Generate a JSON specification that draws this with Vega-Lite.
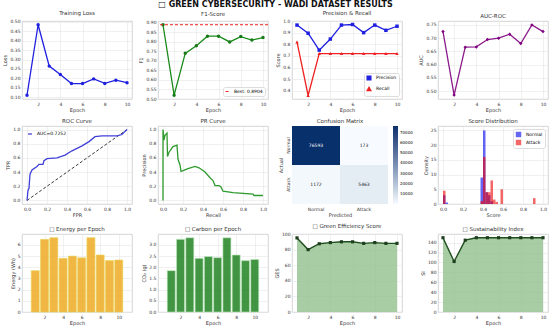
{
  "$schema": "https://vega.github.io/schema/vega-lite/v6.json",
  "padding": {"left": 2, "right": 2, "top": 1, "bottom": 1},
  "background": "white",
  "title": {"text": "□ GREEN CYBERSECURITY - WADI DATASET RESULTS", "fontSize": 8, "fontWeight": "bold", "anchor": "middle", "offset": 1, "color": "#111"},
  "columns": 4,
  "align": "each",
  "spacing": {"row": 5, "column": 5},
  "datasets": {
    "epochs": [
      {"epoch": 1, "loss": 0.11, "f1": 0.8904, "precision": 0.965, "recall": 0.82, "auc": 0.725, "energy": 3.7, "co2": 1.85, "ges": 95, "si": 150},
      {"epoch": 2, "loss": 0.485, "f1": 0.52, "precision": 0.895, "recall": 0.36, "auc": 0.485, "energy": 6.5, "co2": 3.25, "ges": 80, "si": 102},
      {"epoch": 3, "loss": 0.265, "f1": 0.74, "precision": 0.75, "recall": 0.72, "auc": 0.666, "energy": 6.65, "co2": 3.32, "ges": 87.5, "si": 145},
      {"epoch": 4, "loss": 0.22, "f1": 0.78, "precision": 0.845, "recall": 0.72, "auc": 0.667, "energy": 4.8, "co2": 2.4, "ges": 89, "si": 150},
      {"epoch": 5, "loss": 0.172, "f1": 0.83, "precision": 0.965, "recall": 0.72, "auc": 0.695, "energy": 5.0, "co2": 2.48, "ges": 90, "si": 150},
      {"epoch": 6, "loss": 0.172, "f1": 0.83, "precision": 0.97, "recall": 0.72, "auc": 0.70, "energy": 4.85, "co2": 2.43, "ges": 90, "si": 150},
      {"epoch": 7, "loss": 0.197, "f1": 0.80, "precision": 0.90, "recall": 0.72, "auc": 0.715, "energy": 6.65, "co2": 3.32, "ges": 88, "si": 150},
      {"epoch": 8, "loss": 0.173, "f1": 0.828, "precision": 0.965, "recall": 0.72, "auc": 0.68, "energy": 5.1, "co2": 2.55, "ges": 89, "si": 150},
      {"epoch": 9, "loss": 0.19, "f1": 0.81, "precision": 0.92, "recall": 0.72, "auc": 0.75, "energy": 4.6, "co2": 2.3, "ges": 88, "si": 150},
      {"epoch": 10, "loss": 0.177, "f1": 0.823, "precision": 0.955, "recall": 0.72, "auc": 0.725, "energy": 4.65, "co2": 2.35, "ges": 88, "si": 150}
    ],
    "roc": [
      {"i": 0, "fpr": 0.0, "tpr": 0.0},
      {"i": 1, "fpr": 0.01, "tpr": 0.14},
      {"i": 2, "fpr": 0.02, "tpr": 0.17},
      {"i": 3, "fpr": 0.03, "tpr": 0.37},
      {"i": 4, "fpr": 0.05, "tpr": 0.43},
      {"i": 5, "fpr": 0.1, "tpr": 0.48},
      {"i": 6, "fpr": 0.12, "tpr": 0.51},
      {"i": 7, "fpr": 0.16, "tpr": 0.51},
      {"i": 8, "fpr": 0.17, "tpr": 0.56},
      {"i": 9, "fpr": 0.2, "tpr": 0.59},
      {"i": 10, "fpr": 0.3, "tpr": 0.6},
      {"i": 11, "fpr": 0.38, "tpr": 0.64},
      {"i": 12, "fpr": 0.45, "tpr": 0.7},
      {"i": 13, "fpr": 0.55, "tpr": 0.77},
      {"i": 14, "fpr": 0.62, "tpr": 0.83},
      {"i": 15, "fpr": 0.68, "tpr": 0.9},
      {"i": 16, "fpr": 0.75, "tpr": 0.91},
      {"i": 17, "fpr": 0.9, "tpr": 0.91},
      {"i": 18, "fpr": 0.95, "tpr": 0.93},
      {"i": 19, "fpr": 0.97, "tpr": 0.96},
      {"i": 20, "fpr": 1.0, "tpr": 1.0}
    ],
    "diag": [{"i": 0, "fpr": 0, "tpr": 0}, {"i": 1, "fpr": 1, "tpr": 1}],
    "pr": [
      {"i": 0, "recall": 0.0, "precision": 0.0},
      {"i": 1, "recall": 0.0, "precision": 1.0},
      {"i": 2, "recall": 0.01, "precision": 0.85},
      {"i": 3, "recall": 0.02, "precision": 0.92},
      {"i": 4, "recall": 0.04, "precision": 0.95},
      {"i": 5, "recall": 0.045, "precision": 0.62},
      {"i": 6, "recall": 0.06, "precision": 0.68},
      {"i": 7, "recall": 0.1, "precision": 0.76},
      {"i": 8, "recall": 0.14, "precision": 0.78},
      {"i": 9, "recall": 0.15, "precision": 0.58},
      {"i": 10, "recall": 0.17, "precision": 0.5},
      {"i": 11, "recall": 0.18, "precision": 0.41},
      {"i": 12, "recall": 0.2, "precision": 0.42},
      {"i": 13, "recall": 0.25, "precision": 0.45},
      {"i": 14, "recall": 0.32, "precision": 0.48},
      {"i": 15, "recall": 0.36, "precision": 0.46},
      {"i": 16, "recall": 0.42, "precision": 0.4},
      {"i": 17, "recall": 0.47, "precision": 0.32},
      {"i": 18, "recall": 0.5, "precision": 0.28},
      {"i": 19, "recall": 0.52, "precision": 0.21},
      {"i": 20, "recall": 0.56, "precision": 0.21},
      {"i": 21, "recall": 0.58, "precision": 0.19},
      {"i": 22, "recall": 0.6, "precision": 0.13},
      {"i": 23, "recall": 0.7, "precision": 0.11},
      {"i": 24, "recall": 0.8, "precision": 0.1},
      {"i": 25, "recall": 0.9, "precision": 0.09},
      {"i": 26, "recall": 0.91, "precision": 0.07},
      {"i": 27, "recall": 1.0, "precision": 0.07}
    ],
    "cm": [
      {"actual": "Normal", "predicted": "Normal", "count": 76593},
      {"actual": "Normal", "predicted": "Attack", "count": 173},
      {"actual": "Attack", "predicted": "Normal", "count": 1172},
      {"actual": "Attack", "predicted": "Attack", "count": 5463}
    ],
    "hist": [
      {"cls": "Normal", "b0": 0.0, "b1": 0.025, "d": 3.0},
      {"cls": "Normal", "b0": 0.025, "b1": 0.05, "d": 0.5},
      {"cls": "Normal", "b0": 0.375, "b1": 0.4, "d": 9},
      {"cls": "Normal", "b0": 0.4, "b1": 0.425, "d": 25},
      {"cls": "Normal", "b0": 0.425, "b1": 0.45, "d": 4},
      {"cls": "Normal", "b0": 0.45, "b1": 0.475, "d": 3},
      {"cls": "Normal", "b0": 0.475, "b1": 0.5, "d": 1},
      {"cls": "Attack", "b0": 0.0, "b1": 0.025, "d": 4.5},
      {"cls": "Attack", "b0": 0.375, "b1": 0.4, "d": 1},
      {"cls": "Attack", "b0": 0.4, "b1": 0.425, "d": 16},
      {"cls": "Attack", "b0": 0.425, "b1": 0.45, "d": 4},
      {"cls": "Attack", "b0": 0.45, "b1": 0.475, "d": 4},
      {"cls": "Attack", "b0": 0.475, "b1": 0.5, "d": 8},
      {"cls": "Attack", "b0": 0.5, "b1": 0.525, "d": 1.5},
      {"cls": "Attack", "b0": 0.525, "b1": 0.55, "d": 0.7},
      {"cls": "Attack", "b0": 0.575, "b1": 0.6, "d": 5},
      {"cls": "Attack", "b0": 0.9, "b1": 0.925, "d": 2}
    ]
  },
  "concat": [
    {
      "title": "Training Loss",
      "width": 110, "height": 78,
      "data": {"name": "epochs"},
      "encoding": {
        "x": {"field": "epoch", "type": "quantitative", "scale": {"domain": [0.55, 10.45], "nice": false, "zero": false}, "axis": {"values": [2, 4, 6, 8, 10], "title": "Epoch"}},
        "y": {"field": "loss", "type": "quantitative", "scale": {"domain": [0.09, 0.505], "nice": false, "zero": false}, "axis": {"values": [0.1, 0.15, 0.2, 0.25, 0.3, 0.35, 0.4, 0.45, 0.5], "format": ".2f", "title": "Loss"}}
      },
      "layer": [
        {"mark": {"type": "line", "color": "#1f1fe0", "strokeWidth": 1.3}},
        {"mark": {"type": "point", "filled": true, "color": "#1f1fe0", "size": 12, "opacity": 1}}
      ]
    },
    {
      "title": "F1-Score",
      "width": 110, "height": 78,
      "encoding": {
        "y": {"type": "quantitative", "scale": {"domain": [0.5, 0.91], "nice": false, "zero": false}, "axis": {"values": [0.5, 0.55, 0.6, 0.65, 0.7, 0.75, 0.8, 0.85, 0.9], "format": ".2f", "title": "F1"}}
      },
      "layer": [
        {
          "data": {"name": "epochs"},
          "encoding": {
            "x": {"field": "epoch", "type": "quantitative", "scale": {"domain": [0.55, 10.45], "nice": false, "zero": false}, "axis": {"values": [2, 4, 6, 8, 10], "title": "Epoch"}},
            "y": {"field": "f1", "type": "quantitative"}
          },
          "layer": [
            {"mark": {"type": "line", "color": "#1a8a1a", "strokeWidth": 1.3}},
            {"mark": {"type": "point", "filled": true, "color": "#1a7a1a", "size": 12, "opacity": 1}}
          ]
        },
        {
          "data": {"values": [{"best": 0.8904}]},
          "mark": {"type": "rule", "strokeDash": [3, 2], "strokeWidth": 1},
          "encoding": {
            "y": {"field": "best", "type": "quantitative"},
            "color": {"datum": "Best: 0.8904", "scale": {"range": ["#ee2222"]}, "legend": {"title": null, "orient": "bottom-right", "symbolType": "stroke", "symbolDash": [3, 2], "symbolStrokeWidth": 1, "strokeColor": "#dddddd", "fillColor": "white", "padding": 2, "offset": 3}}
          }
        }
      ]
    },
    {
      "title": "Precision & Recall",
      "width": 110, "height": 78,
      "data": {"name": "epochs"},
      "transform": [{"fold": ["precision", "recall"], "as": ["metric", "value"]}],
      "encoding": {
        "x": {"field": "epoch", "type": "quantitative", "scale": {"domain": [0.55, 10.45], "nice": false, "zero": false}, "axis": {"values": [2, 4, 6, 8, 10], "title": "Epoch"}},
        "y": {"field": "value", "type": "quantitative", "scale": {"domain": [0.33, 1.0], "nice": false, "zero": false}, "axis": {"values": [0.4, 0.5, 0.6, 0.7, 0.8, 0.9, 1.0], "format": ".1f", "title": "Score"}},
        "color": {"field": "metric", "type": "nominal", "scale": {"domain": ["precision", "recall"], "range": ["#1f1fe0", "#ee2222"]}, "legend": {"title": null, "orient": "bottom-right", "symbolType": "stroke", "symbolStrokeWidth": 1.2, "labelExpr": "datum.label == 'precision' ? 'Precision' : 'Recall'", "strokeColor": "#dddddd", "fillColor": "white", "padding": 2, "offset": 3}}
      },
      "layer": [
        {"mark": {"type": "line", "strokeWidth": 1.3}},
        {"mark": {"type": "point", "filled": true, "size": 12, "opacity": 1}, "encoding": {"shape": {"field": "metric", "type": "nominal", "scale": {"domain": ["precision", "recall"], "range": ["square", "triangle-up"]}, "legend": null}}}
      ]
    },
    {
      "title": "AUC-ROC",
      "width": 110, "height": 78,
      "data": {"name": "epochs"},
      "encoding": {
        "x": {"field": "epoch", "type": "quantitative", "scale": {"domain": [0.55, 10.45], "nice": false, "zero": false}, "axis": {"values": [2, 4, 6, 8, 10], "title": "Epoch"}},
        "y": {"field": "auc", "type": "quantitative", "scale": {"domain": [0.47, 0.765], "nice": false, "zero": false}, "axis": {"values": [0.5, 0.55, 0.6, 0.65, 0.7, 0.75], "format": ".2f", "title": "AUC"}}
      },
      "layer": [
        {"mark": {"type": "line", "color": "#8a1a8a", "strokeWidth": 1.3}},
        {"mark": {"type": "point", "filled": true, "color": "#800080", "size": 12, "opacity": 1, "shape": "diamond"}}
      ]
    },
    {
      "title": "ROC Curve",
      "width": 110, "height": 78,
      "encoding": {
        "x": {"field": "fpr", "type": "quantitative", "scale": {"domain": [-0.05, 1.05], "nice": false}, "axis": {"values": [0, 0.2, 0.4, 0.6, 0.8, 1.0], "format": ".1f", "title": "FPR"}},
        "y": {"field": "tpr", "type": "quantitative", "scale": {"domain": [-0.05, 1.05], "nice": false}, "axis": {"values": [0, 0.2, 0.4, 0.6, 0.8, 1.0], "format": ".1f", "title": "TPR"}},
        "order": {"field": "i", "type": "quantitative"}
      },
      "layer": [
        {
          "data": {"name": "diag"},
          "mark": {"type": "line", "color": "#222222", "strokeDash": [3, 2], "strokeWidth": 0.9}
        },
        {
          "data": {"name": "roc"},
          "mark": {"type": "line", "strokeWidth": 1.3},
          "encoding": {
            "color": {"datum": "AUC=0.7252", "scale": {"range": ["#4040d8"]}, "legend": {"title": null, "orient": "top-left", "symbolType": "stroke", "symbolStrokeWidth": 1.3, "padding": 2, "offset": 3}}
          }
        }
      ]
    },
    {
      "title": "PR Curve",
      "width": 110, "height": 78,
      "data": {"name": "pr"},
      "mark": {"type": "line", "color": "#2e9a2e", "strokeWidth": 1.3},
      "encoding": {
        "x": {"field": "recall", "type": "quantitative", "scale": {"domain": [-0.05, 1.05], "nice": false}, "axis": {"values": [0, 0.2, 0.4, 0.6, 0.8, 1.0], "format": ".1f", "title": "Recall"}},
        "y": {"field": "precision", "type": "quantitative", "scale": {"domain": [-0.05, 1.05], "nice": false}, "axis": {"values": [0, 0.2, 0.4, 0.6, 0.8, 1.0], "format": ".1f", "title": "Precision"}},
        "order": {"field": "i", "type": "quantitative"}
      }
    },
    {
      "title": "Confusion Matrix",
      "width": 96, "height": 78,
      "view": {"stroke": null},
      "data": {"name": "cm"},
      "encoding": {
        "x": {"field": "predicted", "type": "nominal", "sort": ["Normal", "Attack"], "axis": {"title": "Predicted", "labelAngle": 0, "grid": false}},
        "y": {"field": "actual", "type": "nominal", "sort": ["Normal", "Attack"], "axis": {"title": "Actual", "labelAngle": -90, "grid": false, "labelAlign": "center", "labelBaseline": "bottom"}}
      },
      "layer": [
        {"mark": {"type": "rect"}, "encoding": {"color": {"field": "count", "type": "quantitative", "scale": {"range": ["#f7fbff", "#08306b"], "domain": [173, 76593], "nice": false}, "legend": {"title": null, "orient": "right", "gradientLength": 78, "gradientThickness": 5, "values": [10000, 20000, 30000, 40000, 50000, 60000, 70000], "format": "d", "labelFontSize": 4, "offset": 5, "padding": 0}}}},
        {"mark": {"type": "text", "fontSize": 4.5}, "encoding": {"text": {"field": "count", "type": "quantitative", "format": "d"}, "color": {"condition": {"test": "datum.count > 40000", "value": "white"}, "value": "#222"}}}
      ]
    },
    {
      "title": "Score Distribution",
      "width": 110, "height": 78,
      "data": {"name": "hist"},
      "mark": {"type": "bar", "opacity": 0.6},
      "encoding": {
        "x": {"field": "b0", "type": "quantitative", "scale": {"domain": [-0.05, 1.05], "nice": false}, "axis": {"values": [0, 0.2, 0.4, 0.6, 0.8, 1.0], "format": ".1f", "title": "Score"}},
        "x2": {"field": "b1"},
        "y": {"field": "d", "type": "quantitative", "stack": null, "scale": {"domain": [0, 26.5], "nice": false}, "axis": {"values": [0, 5, 10, 15, 20, 25], "title": "Density"}},
        "y2": {"datum": 0},
        "color": {"field": "cls", "type": "nominal", "scale": {"domain": ["Normal", "Attack"], "range": ["#0000ee", "#ee0000"]}, "legend": {"title": null, "orient": "top-right", "symbolType": "square", "symbolSize": 30, "strokeColor": "#dddddd", "fillColor": "white", "padding": 2, "offset": 3}},
        "order": {"field": "cls", "sort": "descending"}
      }
    },
    {
      "title": "□ Energy per Epoch",
      "width": 110, "height": 78,
      "data": {"name": "epochs"},
      "mark": {"type": "bar", "color": "#f0b030", "opacity": 0.9, "stroke": "#e8d040", "strokeWidth": 0.6, "size": 8},
      "encoding": {
        "x": {"field": "epoch", "type": "quantitative", "scale": {"domain": [0.11, 10.89], "nice": false, "zero": false}, "axis": {"values": [2, 4, 6, 8, 10], "title": "Epoch"}},
        "y": {"field": "energy", "type": "quantitative", "scale": {"domain": [0, 6.98], "nice": false}, "axis": {"values": [0, 1, 2, 3, 4, 5, 6], "title": "Energy (Wh)"}}
      }
    },
    {
      "title": "□ Carbon per Epoch",
      "width": 110, "height": 78,
      "data": {"name": "epochs"},
      "mark": {"type": "bar", "color": "#2e8a2e", "opacity": 0.9, "stroke": "#b8e8b8", "strokeWidth": 0.6, "size": 8},
      "encoding": {
        "x": {"field": "epoch", "type": "quantitative", "scale": {"domain": [0.11, 10.89], "nice": false, "zero": false}, "axis": {"values": [2, 4, 6, 8, 10], "title": "Epoch"}},
        "y": {"field": "co2", "type": "quantitative", "scale": {"domain": [0, 3.49], "nice": false}, "axis": {"values": [0, 0.5, 1, 1.5, 2, 2.5, 3], "format": ".1f", "title": "CO₂ (g)"}}
      }
    },
    {
      "title": "□ Green Efficiency Score",
      "width": 110, "height": 78,
      "data": {"name": "epochs"},
      "encoding": {
        "x": {"field": "epoch", "type": "quantitative", "scale": {"domain": [0.55, 10.45], "nice": false, "zero": false}, "axis": {"values": [2, 4, 6, 8, 10], "title": "Epoch"}},
        "y": {"field": "ges", "type": "quantitative", "scale": {"domain": [0, 100], "nice": false}, "axis": {"values": [0, 20, 40, 60, 80, 100], "title": "GES"}}
      },
      "layer": [
        {"mark": {"type": "area", "color": "#92bf8c", "opacity": 0.8}},
        {"mark": {"type": "line", "color": "#1e4f1e", "strokeWidth": 1.4}},
        {"mark": {"type": "point", "filled": true, "shape": "square", "color": "#1e3f1e", "size": 10, "opacity": 1}}
      ]
    },
    {
      "title": "□ Sustainability Index",
      "width": 110, "height": 78,
      "data": {"name": "epochs"},
      "encoding": {
        "x": {"field": "epoch", "type": "quantitative", "scale": {"domain": [0.55, 10.45], "nice": false, "zero": false}, "axis": {"values": [2, 4, 6, 8, 10], "title": "Epoch"}},
        "y": {"field": "si", "type": "quantitative", "scale": {"domain": [0, 157.5], "nice": false}, "axis": {"values": [0, 20, 40, 60, 80, 100, 120, 140], "title": "SI"}}
      },
      "layer": [
        {"mark": {"type": "area", "color": "#92bf8c", "opacity": 0.8}},
        {"mark": {"type": "line", "color": "#1e4f1e", "strokeWidth": 1.4}},
        {"mark": {"type": "point", "filled": true, "shape": "square", "color": "#1e3f1e", "size": 10, "opacity": 1}}
      ]
    }
  ],
  "resolve": {"scale": {"color": "independent", "shape": "independent"}, "legend": {"color": "independent"}},
  "config": {
    "font": "DejaVu Sans",
    "view": {"stroke": "#cccccc", "strokeWidth": 0.8},
    "axis": {"labelFontSize": 4.5, "titleFontSize": 5, "labelColor": "#333333", "titleColor": "#333333", "titleFontWeight": "normal", "ticks": false, "domain": false, "gridColor": "#e6e6e6", "gridWidth": 0.6, "labelPadding": 2, "titlePadding": 2, "labelFlush": false, "labelOverlap": false},
    "title": {"fontSize": 5.5, "fontWeight": "normal", "color": "#333333", "offset": 2},
    "legend": {"labelFontSize": 4.5, "symbolSize": 15, "rowPadding": 1, "labelLimit": 80, "cornerRadius": 2}
  }
}
